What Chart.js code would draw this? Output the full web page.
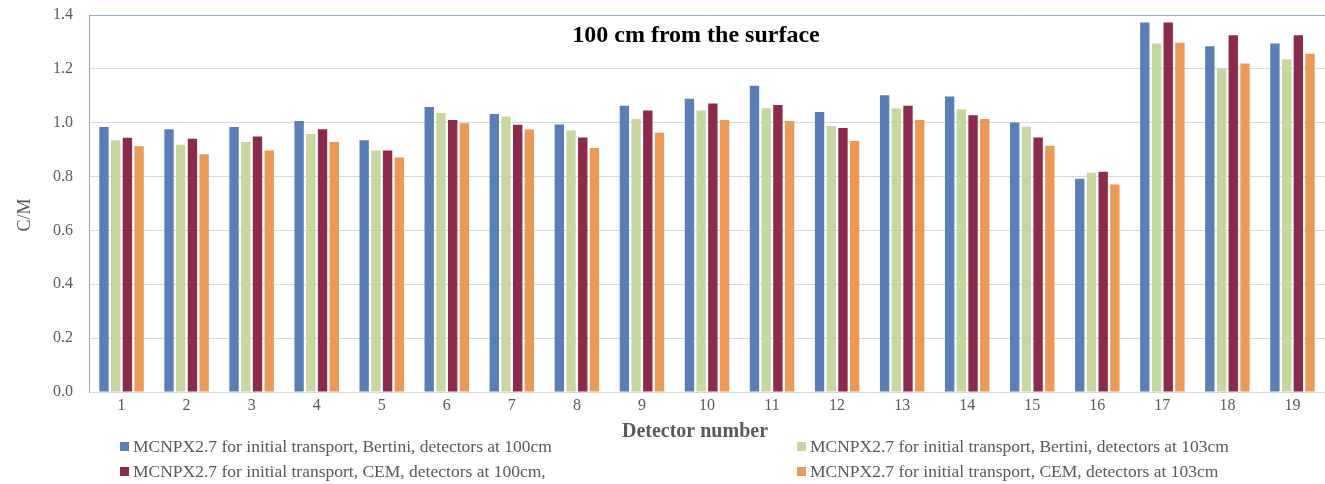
<!DOCTYPE html>
<html>
<head>
<meta charset="utf-8">
<script src="https://cdn.jsdelivr.net/npm/chart.js@4/dist/chart.umd.min.js"></script>
<style>
  html, body { margin: 0; padding: 0; background: #fff; }
  #wrap { position: relative; width: 1325px; height: 484px; overflow: hidden; }
  canvas { position: absolute; left: 0; top: 0; }
  .lg { position: absolute; font-family: "Liberation Serif", "Times New Roman", serif; font-size: 17.5px; color: #595959; white-space: nowrap; line-height: 18px; }
  .lg i { display: inline-block; width: 9px; height: 9px; margin-right: 4px; vertical-align: 1px; }
</style>
</head>
<body>
<div id="wrap"><canvas id="c" width="1325" height="484"></canvas></div>
<script>
const categories = ["1","2","3","4","5","6","7","8","9","10","11","12","13","14","15","16","17","18","19"];
const seriesNames = [
  "MCNPX2.7 for initial transport, Bertini, detectors at 100cm",
  "MCNPX2.7 for initial transport, Bertini, detectors at 103cm",
  "MCNPX2.7 for initial transport, CEM, detectors at 100cm,",
  "MCNPX2.7 for initial transport, CEM, detectors at 103cm"
];
const bertini100 = [0.984, 0.976, 0.984, 1.006, 0.935, 1.058, 1.032, 0.993, 1.063, 1.089, 1.137, 1.040, 1.102, 1.097, 1.001, 0.792, 1.372, 1.284, 1.294];
const bertini103 = [0.935, 0.918, 0.928, 0.958, 0.897, 1.036, 1.023, 0.971, 1.014, 1.045, 1.054, 0.988, 1.053, 1.050, 0.985, 0.814, 1.294, 1.201, 1.236];
const cem100     = [0.944, 0.940, 0.949, 0.976, 0.897, 1.010, 0.992, 0.945, 1.045, 1.071, 1.066, 0.980, 1.063, 1.028, 0.945, 0.818, 1.372, 1.325, 1.325];
const cem103     = [0.913, 0.883, 0.897, 0.928, 0.871, 0.998, 0.975, 0.906, 0.963, 1.010, 1.006, 0.932, 1.010, 1.014, 0.914, 0.771, 1.297, 1.220, 1.256];
const seriesColors = ["#5A7FB6", "#C8D6A0", "#8C2A4B", "#EA9956"];
const yTicks = [0.0, 0.2, 0.4, 0.6, 0.8, 1.0, 1.2, 1.4];
const chartTitle = "100 cm from the surface";
const xTitle = "Detector number";
const yTitle = "C/M";

const serif = "'Liberation Serif', 'Times New Roman', serif";
const seriesValues = [bertini100, bertini103, cem100, cem103];

const innerTitles = {
  id: 'innerTitles',
  afterDraw(chart) {
    const {ctx, chartArea} = chart;
    ctx.save();
    ctx.textAlign = "center";
    ctx.textBaseline = "middle";
    ctx.font = "bold 24px " + serif;
    ctx.fillStyle = "#000";
    ctx.fillText(chartTitle, chartArea.left + 607, chartArea.top + 21);
    ctx.font = "bold 20px " + serif;
    ctx.fillStyle = "#595959";
    ctx.fillText(xTitle, chartArea.left + 606, chartArea.bottom + 40);
    ctx.translate(chartArea.left - 64, chartArea.top + 200);
    ctx.rotate(-Math.PI / 2);
    ctx.font = "18px " + serif;
    ctx.fillText(yTitle, 0, 0);
    ctx.restore();
  }
};

const chart = new Chart(document.getElementById('c'), {
  type: 'bar',
  data: {
    labels: categories,
    datasets: seriesValues.map((vals, i) => ({
      label: seriesNames[i],
      data: vals,
      backgroundColor: seriesColors[i],
      borderWidth: 0,
      categoryPercentage: 0.72,
      barPercentage: 0.8
    }))
  },
  options: {
    responsive: false,
    animation: false,
    devicePixelRatio: 1,
    layout: { padding: { left: 0, right: 0, top: 15, bottom: 32 } },
    plugins: { legend: { display: false }, tooltip: { enabled: false }, title: { display: false } },
    scales: {
      x: {
        offset: true,
        grid: { display: false, drawTicks: false },
        border: { display: true, color: '#D9D9D9', width: 1 },
        ticks: { color: '#595959', font: { family: serif, size: 16 }, padding: 4, maxRotation: 0, autoSkip: false },
        afterFit(scale) { scale.height = 60; scale.paddingLeft = 0; scale.paddingRight = 0; }
      },
      y: {
        min: 0, max: 1.4,
        afterBuildTicks(scale) { scale.ticks = yTicks.map(v => ({ value: v })); },
        grid: {
          drawTicks: false,
          color: ctx => (ctx.tick && Math.abs(ctx.tick.value - 1.4) < 1e-6) ? '#8FAADC' : '#D9D9D9',
          lineWidth: 1
        },
        border: { display: true, color: '#8FAADC', width: 1 },
        ticks: { color: '#595959', font: { family: serif, size: 16 }, padding: 16, callback: v => Number(v).toFixed(1) },
        afterFit(scale) { scale.width = 89; scale.paddingTop = 0; scale.paddingBottom = 0; }
      }
    }
  },
  plugins: [innerTitles]
});

// HTML legend built from the chart's datasets
const wrap = document.getElementById('wrap');
const legendPos = [[120, 437], [797, 437], [120, 462], [797, 462]];
chart.data.datasets.forEach((ds, i) => {
  const d = document.createElement('div');
  d.className = 'lg';
  d.style.left = legendPos[i][0] + 'px';
  d.style.top = legendPos[i][1] + 'px';
  const sw = document.createElement('i');
  sw.style.background = ds.backgroundColor;
  d.appendChild(sw);
  d.appendChild(document.createTextNode(ds.label));
  wrap.appendChild(d);
});
</script>
</body>
</html>
